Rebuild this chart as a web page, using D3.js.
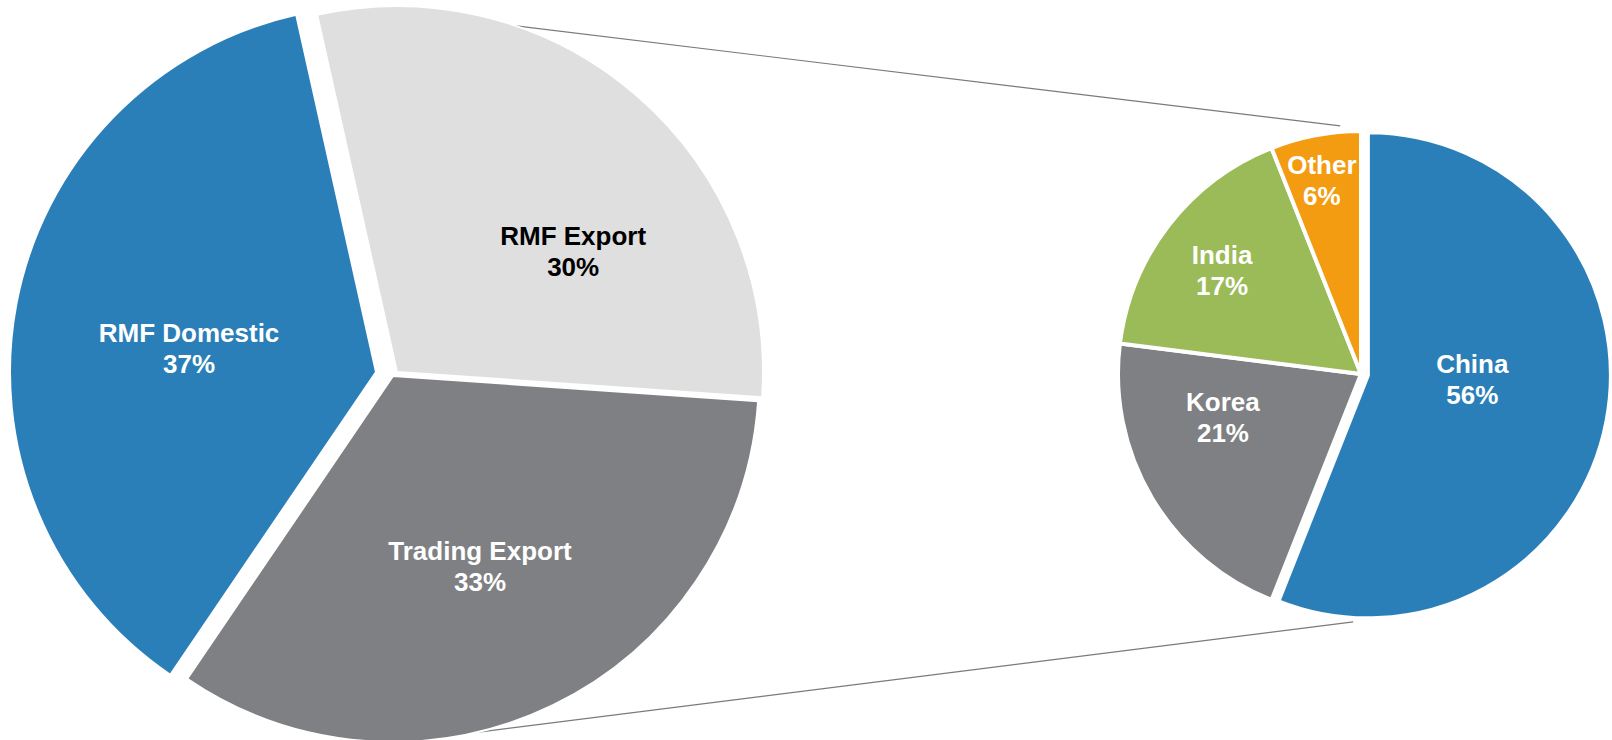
<!DOCTYPE html>
<html>
<head>
<meta charset="utf-8">
<script src="https://cdn.jsdelivr.net/npm/d3@7"></script>
<style>
  body { margin: 0; background: #fff; }
  svg { display: block; }
  text { font-family: "Liberation Sans", Arial, sans-serif; font-weight: bold; }
</style>
</head>
<body>
<div id="chart"></div>
<script>
const width = 1612;
const height = 740;

// main pie
const mainCats = ['RMF Export', 'Trading Export', 'RMF Domestic'];
const mainValues = [29.6, 33.4, 37.0];
const mainColors = ['#dfdfdf', '#7f8083', '#2b7fb8'];
const mainText = ['#000', '#fff', '#fff'];

// breakdown pie
const subCats = ['China', 'Korea', 'India', 'Other'];
const subValues = [56, 21, 17, 6];
const subColors = ['#2b7fb8', '#7f8083', '#9bbb59', '#f39c12'];

const deg = Math.PI / 180;
const pct = d3.format('.0%');

const svg = d3.select('#chart')
  .append('svg')
  .attr('width', width)
  .attr('height', height);

// geometry
const mainR = 366;
const mainCenter = [388, 372];
const mainExplode = [[9, 0], [5, 4], [-12, 0]];
const mainLabel = [[55.5, 0.584], [155.4, 0.571], [277.3, 0.515]];

const subR = 243;
const subCenter = [1361, 374];
const subExplode = [7, 0, 0, 0];
const subLabel = [[92, 0.43], [252.7, 0.595], [306.8, 0.714], [348.6, 0.815]];

const mainStart = -12.6 * deg;
const mainPie = d3.pie().sort(null)
  .startAngle(mainStart)
  .endAngle(mainStart + 2 * Math.PI);
const subPie = d3.pie().sort(null);

const mainArc = d3.arc().innerRadius(0).outerRadius(mainR);
const subArc = d3.arc().innerRadius(0).outerRadius(subR);

const mainData = mainPie(mainValues);
const subData = subPie(subValues);
const mainTotal = d3.sum(mainValues);
const subTotal = d3.sum(subValues);

// connector lines (drawn first, pies sit on top)
const pt = (c, a, r) => {
  const p = d3.pointRadial(a * deg, r);
  return [c[0] + p[0], c[1] + p[1]];
};
const lightC = [mainCenter[0] + mainExplode[0][0], mainCenter[1] + mainExplode[0][1]];
const darkC = [mainCenter[0] + mainExplode[1][0], mainCenter[1] + mainExplode[1][1]];
const connectors = [
  [pt(lightC, 19, mainR), pt(subCenter, -4.8, subR + 6)],
  [pt(darkC, 168.6, mainR - 1), pt(subCenter, 181.8, subR + 5)]
];
svg.append('g')
  .selectAll('line')
  .data(connectors)
  .enter()
  .append('line')
  .attr('x1', d => d[0][0])
  .attr('y1', d => d[0][1])
  .attr('x2', d => d[1][0])
  .attr('y2', d => d[1][1])
  .attr('stroke', '#7a7a7a')
  .attr('stroke-width', 1.2);

// main pie slices
const mainG = svg.append('g');
mainG.selectAll('path')
  .data(mainData)
  .enter()
  .append('path')
  .attr('transform', (d, i) => `translate(${mainCenter[0] + mainExplode[i][0]},${mainCenter[1] + mainExplode[i][1]})`)
  .attr('d', mainArc)
  .attr('fill', (d, i) => mainColors[i])
  .attr('stroke', '#fff')
  .attr('stroke-width', 2);

// sub pie slices
const subG = svg.append('g');
subG.selectAll('path')
  .data(subData)
  .enter()
  .append('path')
  .attr('transform', (d, i) => {
    const mid = (d.startAngle + d.endAngle) / 2;
    const o = d3.pointRadial(mid, subExplode[i]);
    return `translate(${subCenter[0] + o[0]},${subCenter[1] + o[1]})`;
  })
  .attr('d', subArc)
  .attr('fill', (d, i) => subColors[i])
  .attr('stroke', '#fff')
  .attr('stroke-width', 4);

// labels
function addLabel(g, x, y, name, val, color) {
  const t = g.append('text')
    .attr('text-anchor', 'middle')
    .attr('font-size', 26)
    .attr('fill', color);
  t.append('tspan').attr('x', x).attr('y', y - 6).text(name);
  t.append('tspan').attr('x', x).attr('y', y + 25).text(val);
}

mainData.forEach((d, i) => {
  const c = [mainCenter[0] + mainExplode[i][0], mainCenter[1] + mainExplode[i][1]];
  const p = pt(c, mainLabel[i][0], mainLabel[i][1] * mainR);
  addLabel(mainG, p[0], p[1], mainCats[i], pct(d.value / mainTotal), mainText[i]);
});

subData.forEach((d, i) => {
  const mid = (d.startAngle + d.endAngle) / 2;
  const o = d3.pointRadial(mid, subExplode[i]);
  const c = [subCenter[0] + o[0], subCenter[1] + o[1]];
  const p = pt(c, subLabel[i][0], subLabel[i][1] * subR);
  addLabel(subG, p[0], p[1], subCats[i], pct(d.value / subTotal), '#fff');
});
</script>
</body>
</html>
